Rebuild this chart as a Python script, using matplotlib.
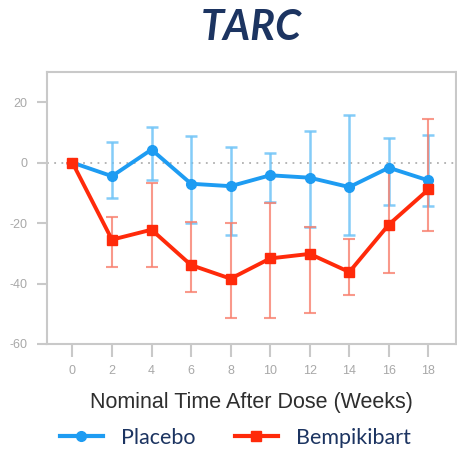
import matplotlib
matplotlib.use("Agg")

import matplotlib.pyplot as plt
from matplotlib.lines import Line2D

# Weeks after dose
weeks = [0, 2, 4, 6, 8, 10, 12, 14, 16, 18]

# Percent change from baseline, mean with upper/lower bar ends
placebo = [0, -4.5, 4.3, -7.0, -7.8, -4.2, -5.0, -8.1, -1.7, -5.9]
placebo_hi = [0, 6.8, 11.9, 8.9, 5.1, 3.2, 10.3, 15.7, 8.1, 9.2]
placebo_lo = [0, -11.8, -5.9, -20.0, -23.8, -13.2, -21.2, -23.9, -13.9, -14.4]

bempi = [0, -25.5, -22.2, -33.9, -38.4, -31.7, -30.2, -36.2, -20.5, -8.9]
bempi_hi = [0, -17.9, -6.7, -19.8, -20.0, -13.4, -21.4, -25.2, -2.3, 14.3]
bempi_lo = [0, -34.5, -34.5, -42.7, -51.5, -51.5, -49.8, -43.8, -36.4, -22.7]

y_ticks = [20, 0, -20, -40, -60]

BLUE = "#1E9CF2"
BLUE_ERR = "#6EC3F7"
RED = "#FF2A0A"
RED_ERR = "#F8806E"
NAVY = "#1C3461"
GRID_GRAY = "#C9C9C9"
TICK_GRAY = "#A8A8A8"


def err(mean, hi, lo):
    return [[m - l for m, l in zip(mean, lo)], [h - m for m, h in zip(mean, hi)]]


fig = plt.figure(figsize=(4.57, 4.55), dpi=100)
ax = fig.add_axes([0.103, 0.244, 0.895, 0.598])

ax.axhline(0, color="#B0B0B0", lw=1.3, ls=(0, (1, 3)), zorder=1)

ax.errorbar(weeks, placebo, yerr=err(placebo, placebo_hi, placebo_lo), fmt="none",
            ecolor=BLUE_ERR, elinewidth=1.8, capsize=4, capthick=1.8, alpha=0.85, zorder=2)
ax.errorbar(weeks, bempi, yerr=err(bempi, bempi_hi, bempi_lo), fmt="none",
            ecolor=RED_ERR, elinewidth=1.5, capsize=4, capthick=1.5, alpha=0.8, zorder=2)

ax.plot(weeks, placebo, color=BLUE, lw=2.8, marker="o", ms=7, zorder=3)
ax.plot(weeks, bempi, color=RED, lw=2.8, marker="s", ms=7, zorder=4)

ax.set_xlim(-1.28, 19.4)
ax.set_ylim(-60, 30)
ax.set_xticks(weeks)
ax.set_yticks(y_ticks)
ax.set_yticklabels([str(v) for v in y_ticks])

for side in ["left", "right", "top", "bottom"]:
    ax.spines[side].set_color(GRID_GRAY)
    ax.spines[side].set_linewidth(1.5)

ax.tick_params(axis="y", length=7, width=1.5, color=GRID_GRAY, pad=7,
               labelsize=9, labelcolor=TICK_GRAY)
ax.tick_params(axis="x", length=9, width=1.5, color=GRID_GRAY, pad=6,
               labelsize=9, labelcolor=TICK_GRAY)
for lbl in ax.get_xticklabels() + ax.get_yticklabels():
    lbl.set_family("Liberation Sans")

ax.set_xlabel("Nominal Time After Dose (Weeks)", fontsize=15.5, color="#2E2E2E",
              family="Liberation Sans", labelpad=11)

fig.text(0.55, 0.938, "TARC", ha="center", va="center", fontsize=30,
         fontweight="bold", fontstyle="italic", color=NAVY, family="Lato")

handles = [
    Line2D([], [], color=BLUE, lw=3, marker="o", ms=7),
    Line2D([], [], color=RED, lw=3, marker="s", ms=7),
]
fig.legend(handles, ["Placebo", "Bempikibart"], loc="center", bbox_to_anchor=(0.515, 0.038),
           ncol=2, frameon=False, handlelength=2.0, columnspacing=1.8, handletextpad=0.85,
           prop={"family": "Lato", "size": 15.5}, labelcolor=NAVY)

fig.savefig("out.png", dpi=100)
